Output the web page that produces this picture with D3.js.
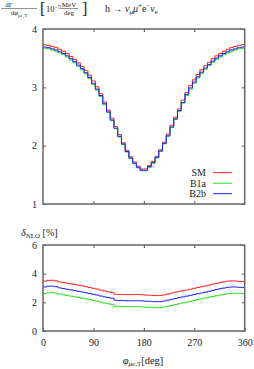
<!DOCTYPE html>
<meta charset="utf-8">
<title>h decay phi distribution</title>
<style>
body { margin: 0; background: #fff; }
text { font-family: "Liberation Serif", "DejaVu Serif", serif; fill: #222; }
.tick text { font-size: 10px; }
.domain { display: none; }
.tick line { stroke: #555; stroke-width: 1; }
</style>
<script src="https://cdn.jsdelivr.net/npm/d3@7"></script>
<body>
<script>
var width = 254, height = 369;

// top panel: dGamma/dphi [1e-5 MeV/deg], 54 bins over 0..360 deg
var smTop = [3.73,3.72,3.70,3.68,3.65,3.62,3.58,3.53,3.48,3.42,3.36,3.29,3.21,3.11,3.01,2.89,2.75,2.61,2.47,2.33,2.19,2.05,1.92,1.81,1.72,1.65,1.60,
             1.60,1.66,1.73,1.82,1.93,2.06,2.20,2.35,2.49,2.63,2.78,2.91,3.03,3.13,3.22,3.30,3.37,3.43,3.49,3.54,3.58,3.62,3.65,3.68,3.70,3.72,3.73];
var b1aTop = [3.67,3.66,3.64,3.62,3.59,3.56,3.52,3.47,3.42,3.36,3.30,3.23,3.15,3.05,2.95,2.84,2.70,2.57,2.43,2.29,2.15,2.02,1.89,1.78,1.69,1.62,1.57,
              1.57,1.63,1.70,1.79,1.90,2.03,2.16,2.31,2.45,2.59,2.73,2.86,2.97,3.07,3.16,3.24,3.31,3.37,3.43,3.48,3.52,3.56,3.59,3.62,3.64,3.66,3.67];
var b2bTop = [3.69,3.68,3.66,3.64,3.61,3.58,3.54,3.49,3.44,3.38,3.32,3.25,3.17,3.07,2.97,2.86,2.72,2.58,2.44,2.30,2.16,2.03,1.90,1.79,1.70,1.63,1.58,
              1.58,1.64,1.71,1.80,1.91,2.04,2.17,2.32,2.46,2.60,2.74,2.88,2.99,3.09,3.18,3.26,3.33,3.39,3.45,3.50,3.54,3.58,3.61,3.64,3.66,3.68,3.69];

// bottom panel: delta_NLO [%]
var smDelta = [3.48,3.53,3.54,3.50,3.42,3.38,3.33,3.29,3.25,3.20,3.15,3.10,3.04,2.98,2.93,2.85,2.79,2.73,2.69,2.56,
               2.55,2.55,2.54,2.54,2.55,2.55,2.53,2.51,2.50,2.48,2.47,2.48,2.52,2.58,2.64,2.71,2.77,2.81,2.86,2.92,
               2.98,3.04,3.09,3.14,3.20,3.27,3.32,3.38,3.43,3.48,3.50,3.49,3.46,3.44];
var b1aDelta = [2.62,2.67,2.68,2.64,2.57,2.52,2.47,2.43,2.39,2.34,2.29,2.24,2.19,2.13,2.08,2.01,1.95,1.90,1.86,1.74,
                1.72,1.71,1.70,1.70,1.70,1.70,1.68,1.66,1.65,1.63,1.62,1.63,1.67,1.72,1.78,1.84,1.90,1.96,2.01,2.07,
                2.13,2.19,2.24,2.30,2.35,2.41,2.46,2.51,2.55,2.60,2.63,2.64,2.63,2.61];
var b2bDelta = [3.07,3.12,3.13,3.09,3.01,2.96,2.91,2.87,2.82,2.77,2.72,2.67,2.62,2.56,2.51,2.44,2.38,2.33,2.29,2.15,
                2.13,2.12,2.11,2.11,2.11,2.11,2.10,2.08,2.07,2.05,2.04,2.05,2.09,2.15,2.21,2.27,2.33,2.38,2.43,2.49,
                2.54,2.60,2.65,2.71,2.77,2.84,2.89,2.95,3.00,3.05,3.07,3.07,3.05,3.03];

var seriesNames = ["SM", "B1a", "B2b"];
var colors = ["#ff2020", "#20e020", "#2020ff"];
var xTicks = [0, 90, 180, 270, 360];
var topTicks = [1, 2, 3, 4];
var botTicks = [0, 2, 4, 6];

var left = 43, right = 244.7;
var x = d3.scaleLinear().domain([0, 360]).range([left, right]);
var yTop = d3.scaleLinear().domain([1, 4]).range([204, 29]);
var yBot = d3.scaleLinear().domain([0, 6]).range([331, 245]);

var svg = d3.select("body").append("svg").attr("width", width).attr("height", height);

function stepPath(vals, y) {
  var bw = 360 / vals.length;
  var pts = vals.map(function(v, i) { return [i * bw, v]; });
  pts.push([360, vals[vals.length - 1]]);
  return d3.line().x(function(d) { return x(d[0]); }).y(function(d) { return y(d[1]); })
    .curve(d3.curveStepAfter)(pts);
}

function panel(y, yt, data, showX) {
  var g = svg.append("g");
  var inner = [90, 180, 270];
  g.append("g").attr("transform", "translate(" + left + ",0)")
    .call(d3.axisLeft(y).tickValues(yt).tickSize(-3).tickPadding(6).tickFormat(d3.format("d")));
  g.append("g").attr("transform", "translate(" + right + ",0)")
    .call(d3.axisRight(y).tickValues(yt).tickSize(-3).tickFormat(""));
  g.append("g").attr("transform", "translate(0," + y.range()[1] + ")")
    .call(d3.axisTop(x).tickValues(inner).tickSize(-3).tickFormat(""));
  g.append("g").attr("transform", "translate(0," + y.range()[0] + ")")
    .call(d3.axisBottom(x).tickValues(showX ? xTicks : inner).tickSize(-3).tickPadding(8)
      .tickFormat(showX ? d3.format("d") : ""));
  data.forEach(function(vals, i) {
    g.append("path").attr("d", stepPath(vals, y))
      .attr("fill", "none").attr("stroke", colors[i]).attr("stroke-width", 1);
  });
  g.append("rect").attr("x", left).attr("y", y.range()[1])
    .attr("width", right - left).attr("height", y.range()[0] - y.range()[1])
    .attr("fill", "none").attr("stroke", "#666").attr("stroke-width", 1.5);
  g.selectAll(".tick text").style("font-size", "10px");
}

panel(yTop, topTicks, [smTop, b1aTop, b2bTop], false);
panel(yBot, botTicks, [smDelta, b1aDelta, b2bDelta], true);

// legend
seriesNames.forEach(function(n, i) {
  var ly = 172.7 + i * 10.5;
  svg.append("text").attr("x", 206).attr("y", ly).attr("dy", "0.33em")
    .attr("text-anchor", "end").style("font-size", "10px").text(n);
  svg.append("line").attr("x1", 213).attr("x2", 232).attr("y1", ly).attr("y2", ly)
    .attr("stroke", colors[i]).attr("stroke-width", 1);
});

// top-left fraction label
var lab = svg.append("g");
lab.append("text").attr("x", 9).attr("y", 7).attr("text-anchor", "middle").style("font-size", "7px").text("dΓ");
lab.append("line").attr("x1", 1).attr("x2", 37).attr("y1", 8.5).attr("y2", 8.5).attr("stroke", "#222").attr("stroke-width", 0.5);
var den = lab.append("text").attr("x", 19).attr("y", 15).attr("text-anchor", "middle").style("font-size", "7px");
den.append("tspan").text("d");
den.append("tspan").style("font-style", "italic").text("φ");
den.append("tspan").attr("dy", 1.5).style("font-size", "5px").text("μe,T");
lab.append("text").attr("x", 40).attr("y", 14).style("font-size", "16px").text("[");
var ten = lab.append("text").attr("x", 46).attr("y", 12).style("font-size", "8.5px");
ten.append("tspan").text("10");
ten.append("tspan").attr("dy", -3.5).style("font-size", "6px").text("−5");
lab.append("text").attr("x", 69).attr("y", 7).attr("text-anchor", "middle").style("font-size", "7px").text("MeV");
lab.append("line").attr("x1", 61).attr("x2", 78).attr("y1", 8.5).attr("y2", 8.5).attr("stroke", "#222").attr("stroke-width", 0.5);
lab.append("text").attr("x", 69).attr("y", 14.5).attr("text-anchor", "middle").style("font-size", "7px").text("deg");
lab.append("text").attr("x", 82).attr("y", 14).style("font-size", "16px").text("]");

var proc = svg.append("text").attr("x", 105).attr("y", 12).style("font-size", "10px");
proc.append("tspan").text("h → ");
proc.append("tspan").style("font-style", "italic").text("ν");
proc.append("tspan").attr("dy", 2).style("font-size", "7px").style("font-style", "italic").text("μ");
proc.append("tspan").attr("dy", -2).style("font-style", "italic").text("μ");
proc.append("tspan").attr("dy", -4).style("font-size", "7px").text("+");
proc.append("tspan").attr("dy", 4).text("e");
proc.append("tspan").attr("dy", -4).style("font-size", "7px").text("−");
proc.append("tspan").attr("dy", 4).style("font-style", "italic").text("ν");
proc.append("tspan").attr("dy", 2).style("font-size", "7px").text("e");

// delta_NLO label
var dl = svg.append("text").attr("x", 21).attr("y", 236).style("font-size", "10px");
dl.append("tspan").style("font-style", "italic").text("δ");
dl.append("tspan").attr("dy", 2).style("font-size", "7px").text("NLO");
dl.append("tspan").attr("dy", -2).text(" [%]");

// x axis title
var xt = svg.append("text").attr("x", 143).attr("y", 364).attr("text-anchor", "middle").style("font-size", "10.5px");
xt.append("tspan").style("font-style", "italic").text("φ");
xt.append("tspan").attr("dy", 2).style("font-size", "7px").style("font-style", "italic").text("μe");
xt.append("tspan").style("font-size", "7px").text(",T");
xt.append("tspan").attr("dy", -2).text("[deg]");
</script>
</body>
